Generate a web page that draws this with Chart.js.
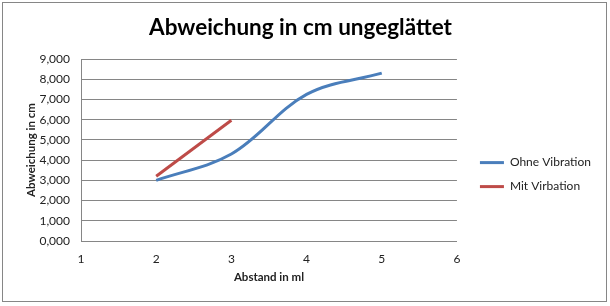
<!DOCTYPE html>
<html>
<head>
<meta charset="utf-8">
<script src="https://cdn.jsdelivr.net/npm/chart.js@4.4.1/dist/chart.umd.min.js"></script>
<style>
	html, body { margin: 0; padding: 0; background: #fff; }
	#wrap { position: relative; width: 610px; height: 306px; }
</style>
</head>
<body>
<div id="wrap"><canvas id="abweichung_chart"></canvas></div>
<script>
// Abstand in ml / Abweichung in cm
const ohneX = [2, 3, 4, 5];
const ohneVibration = [3.0, 4.3, 7.25, 8.3];
const mitX = [2, 3];
const mitVirbation = [3.2, 5.97];
const seriesNames = ['Ohne Vibration', 'Mit Virbation'];
const yTickLabels = ['0,000', '1,000', '2,000', '3,000', '4,000', '5,000', '6,000', '7,000', '8,000', '9,000'];
const xTickLabels = ['1', '2', '3', '4', '5', '6'];

const FONT = 'Lato, "Open Sans", sans-serif';

const toPoints = (xs, ys) => xs.map((x, i) => ({ x: x, y: ys[i] }));

// outer frame like the excel chart area
const framePlugin = {
	id: 'frame',
	afterDraw(chart) {
		const ctx = chart.ctx;
		ctx.save();
		ctx.strokeStyle = '#868686';
		ctx.lineWidth = 1;
		ctx.strokeRect(2.5, 2.5, 604, 299);
		ctx.restore();
	}
};

window.abweichung_chart = () => {
	let chartId = "abweichung_chart";
	const canvas = document.getElementById(chartId);
	if (canvas == null) return;

	const data = {
		datasets: [{
			label: seriesNames[0],
			data: toPoints(ohneX, ohneVibration),
			borderColor: '#4A7EBB',
			backgroundColor: '#4A7EBB',
			borderWidth: 3,
			pointRadius: 0,
			showLine: true,
			tension: 0.35
		}, {
			label: seriesNames[1],
			data: toPoints(mitX, mitVirbation),
			borderColor: '#BE4B48',
			backgroundColor: '#BE4B48',
			borderWidth: 3,
			pointRadius: 0,
			showLine: true,
			tension: 0
		}]
	};

	const config = {
		type: 'scatter',
		data: data,
		options: {
			responsive: false,
			animation: false,
			layout: {
				padding: { left: 0, right: 9, top: 0, bottom: 0 }
			},
			scales: {
				x: {
					type: 'linear',
					min: 1,
					max: 6,
					ticks: {
						stepSize: 1,
						padding: 11,
						color: '#222',
						font: { family: FONT, size: 12 },
						callback: (v) => xTickLabels[v - 1]
					},
					grid: { display: false, drawTicks: false },
					border: { display: true, color: '#868686', width: 1 },
					title: {
						display: true,
						text: 'Abstand in ml',
						color: '#222',
						font: { family: FONT, size: 11.5, weight: 'bold' },
						padding: { top: 22, bottom: 22 }
					},
					afterFit: (s) => { s.height = 65; }
				},
				y: {
					min: 0,
					max: 9,
					ticks: {
						stepSize: 1,
						padding: 11,
						color: '#222',
						font: { family: FONT, size: 12 },
						callback: (v) => yTickLabels[v]
					},
					grid: { color: '#868686', lineWidth: 1, drawTicks: false },
					border: { display: true, color: '#868686', width: 1 },
					title: {
						display: true,
						text: 'Abweichung in cm',
						color: '#222',
						font: { family: FONT, size: 11.5, weight: 'bold' },
						padding: { top: 24, bottom: 24 }
					},
					afterFit: (s) => { s.width = 81; }
				},
				// empty spacer between plot and legend
				spacer: {
					type: 'linear',
					position: 'right',
					min: 0,
					max: 9,
					ticks: { display: false },
					grid: { display: false, drawTicks: false },
					border: { display: false },
					afterFit: (s) => { s.width = 11; }
				}
			},
			plugins: {
				title: {
					display: true,
					text: 'Abweichung in cm ungeglättet',
					color: '#000',
					font: { family: FONT, size: 22.5, weight: 'bold' },
					padding: { top: 14, bottom: 18 }
				},
				legend: {
					position: 'right',
					maxWidth: 200,
					title: {
						display: true,
						text: ' ',
						font: { family: FONT, size: 11 },
						padding: { top: 15, bottom: 15 }
					},
					labels: {
						usePointStyle: true,
						pointStyle: 'line',
						pointStyleWidth: 24,
						boxHeight: 12,
						padding: 12,
						color: '#222',
						font: { family: FONT, size: 12 }
					}
				},
				tooltip: { enabled: false }
			}
		},
		plugins: [framePlugin]
	};

	canvas.width = 610;
	canvas.height = 306;
	const ctx = canvas.getContext('2d');
	new Chart(ctx, config);
}

window.abweichung_chart();
</script>
</body>
</html>
